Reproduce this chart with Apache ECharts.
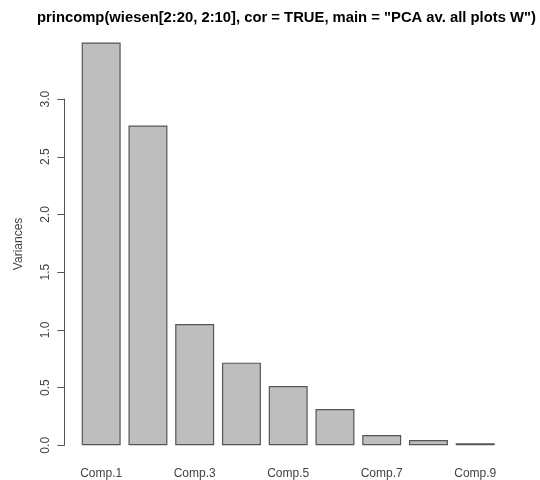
<!DOCTYPE html>
<html>
<head>
<meta charset="utf-8">
<script src="https://cdn.jsdelivr.net/npm/echarts@6/dist/echarts.min.js"></script>
<style>
html,body{margin:0;padding:0;background:#fff;}
#chart{width:540px;height:480px;}
</style>
</head>
<body>
<div id="chart"></div>
<script>
var categories = ['Comp.1','Comp.2','Comp.3','Comp.4','Comp.5','Comp.6','Comp.7','Comp.8','Comp.9'];
var variances = [3.49, 2.77, 1.05, 0.716, 0.514, 0.315, 0.089, 0.046, 0.017];
var yTickMin = 0, yTickMax = 3.0, yTickStep = 0.5;
var titleText = 'princomp(wiesen[2:20, 2:10], cor = TRUE, main = "PCA av. all plots W")';
var yLabel = 'Variances';

var font = 'Liberation Sans, Arial, sans-serif';
var dataMax = Math.max.apply(null, variances);
var ext = dataMax * 0.04;
var yMin = -ext, yMax = dataMax + ext;

var plotTop = 26.4, plotHeight = 435;
var pxPerUnit = plotHeight / (yMax - yMin);
var axisTop = plotTop + (yMax - yTickMax) * pxPerUnit;
var axisHeight = (yTickMax - yTickMin) * pxPerUnit;

var chart = echarts.init(document.getElementById('chart'), null, {renderer:'canvas'});
chart.setOption({
  backgroundColor: '#ffffff',
  animation: false,
  title: {
    text: titleText,
    left: 37, top: 10, padding: 0,
    textStyle: {fontFamily: font, fontSize: 14.8, fontWeight: 'bold', color: '#000'}
  },
  grid: [
    {left: 77.8, width: 420.8, top: plotTop, height: plotHeight},
    {left: 64.3, width: 10, top: axisTop, height: axisHeight}
  ],
  xAxis: [
    {type: 'category', data: categories, gridIndex: 0,
     axisLine: {show: false, onZero: false}, axisTick: {show: false},
     axisLabel: {interval: 1, margin: 6, fontFamily: font, fontSize: 12, color: '#444'}},
    {type: 'value', gridIndex: 1, show: false}
  ],
  yAxis: [
    {type: 'value', gridIndex: 0, min: yMin, max: yMax,
     name: yLabel, nameLocation: 'middle', nameRotate: 90, nameGap: 53,
     nameTextStyle: {fontFamily: font, fontSize: 12, color: '#444'},
     axisLine: {show: false}, axisTick: {show: false}, axisLabel: {show: false},
     splitLine: {show: false}},
    {type: 'value', gridIndex: 1, min: yTickMin, max: yTickMax, interval: yTickStep,
     axisLine: {show: true, lineStyle: {color: '#555', width: 1}},
     axisTick: {show: true, length: 7, lineStyle: {color: '#555', width: 1}},
     axisLabel: {rotate: 90, margin: 13, fontFamily: font, fontSize: 12, color: '#444',
       formatter: function(v){ return v.toFixed(1); }},
     splitLine: {show: false}}
  ],
  series: [{
    type: 'bar', xAxisIndex: 0, yAxisIndex: 0,
    data: variances,
    barCategoryGap: '16.67%',
    itemStyle: {color: '#bebebe', borderColor: '#555', borderWidth: 1.2}
  }]
});
</script>
</body>
</html>
